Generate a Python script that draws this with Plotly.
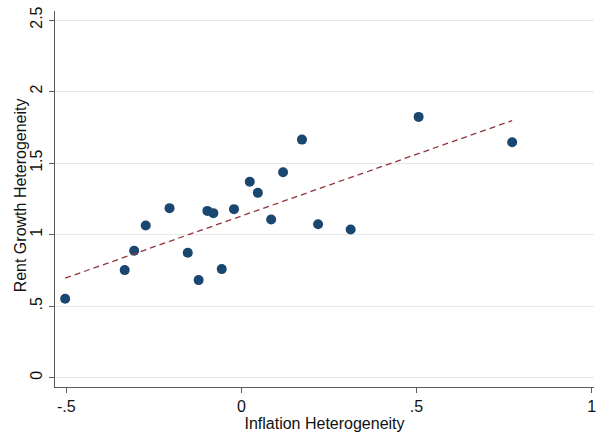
import numpy as np
import plotly.graph_objects as go

# Inflation vs rent growth heterogeneity, one point per unit
inflation_het = [-0.503, -0.333, -0.306, -0.273, -0.205, -0.153, -0.122, -0.097,
                 -0.080, -0.056, -0.021, 0.024, 0.047, 0.085, 0.119, 0.173,
                 0.219, 0.312, 0.506, 0.773]
rent_growth_het = [0.552, 0.752, 0.887, 1.064, 1.185, 0.873, 0.682, 1.166,
                   1.150, 0.759, 1.178, 1.369, 1.292, 1.106, 1.436, 1.664,
                   1.073, 1.036, 1.823, 1.646]

x_ticks = [-0.5, 0, 0.5, 1]
x_tick_labels = ["-.5", "0", ".5", "1"]
y_ticks = [0, 0.5, 1, 1.5, 2, 2.5]
y_tick_labels = ["0", ".5", "1", "1.5", "2", "2.5"]

# Linear fit drawn across the observed x range
slope, intercept = np.polyfit(inflation_het, rent_growth_het, 1)
fit_x = np.array([min(inflation_het), max(inflation_het)])
fit_y = intercept + slope * fit_x

NAVY = "#1a476f"
MAROON = "#90353b"
FONT = "Liberation Sans, Arial, Helvetica, sans-serif"

fig = go.Figure()
fig.add_trace(go.Scatter(
    x=inflation_het, y=rent_growth_het, mode="markers",
    marker=dict(color=NAVY, size=10, line=dict(width=0)),
    showlegend=False, hoverinfo="x+y",
))
fig.add_trace(go.Scatter(
    x=fit_x, y=fit_y, mode="lines",
    line=dict(color=MAROON, width=1.3, dash="6px,4px"),
    showlegend=False, hoverinfo="skip",
))

axis_common = dict(
    showline=True, linecolor="#5a5a5a", linewidth=1.3,
    ticks="outside", ticklen=5, tickwidth=1, tickcolor="#5a5a5a",
    tickfont=dict(family=FONT, size=16, color="#111111"),
    ticklabeloverflow="allow",
    zeroline=False,
)

fig.update_layout(
    width=597, height=433,
    paper_bgcolor="white", plot_bgcolor="white",
    margin=dict(l=55, r=1, t=11, b=46),
    font=dict(family=FONT, color="#111111"),
    xaxis=dict(
        range=[-0.532, 1.0066], tickvals=x_ticks, ticktext=x_tick_labels,
        showgrid=False,
        title=dict(text="Inflation Heterogeneity", font=dict(family=FONT, size=16), standoff=2),
        **axis_common,
    ),
    yaxis=dict(
        range=[-0.065, 2.563], tickvals=y_ticks, ticktext=y_tick_labels,
        tickangle=-90,
        showgrid=True, gridcolor="#e8e8e8", gridwidth=1,
        **axis_common,
    ),
    annotations=[dict(
        text="Rent Growth Heterogeneity", textangle=-90,
        xref="paper", yref="paper", x=-35 / 541, y=0.51,
        xanchor="center", yanchor="middle", showarrow=False,
        font=dict(family=FONT, size=16, color="#111111"),
    )],
)

fig.write_html("out.html")
